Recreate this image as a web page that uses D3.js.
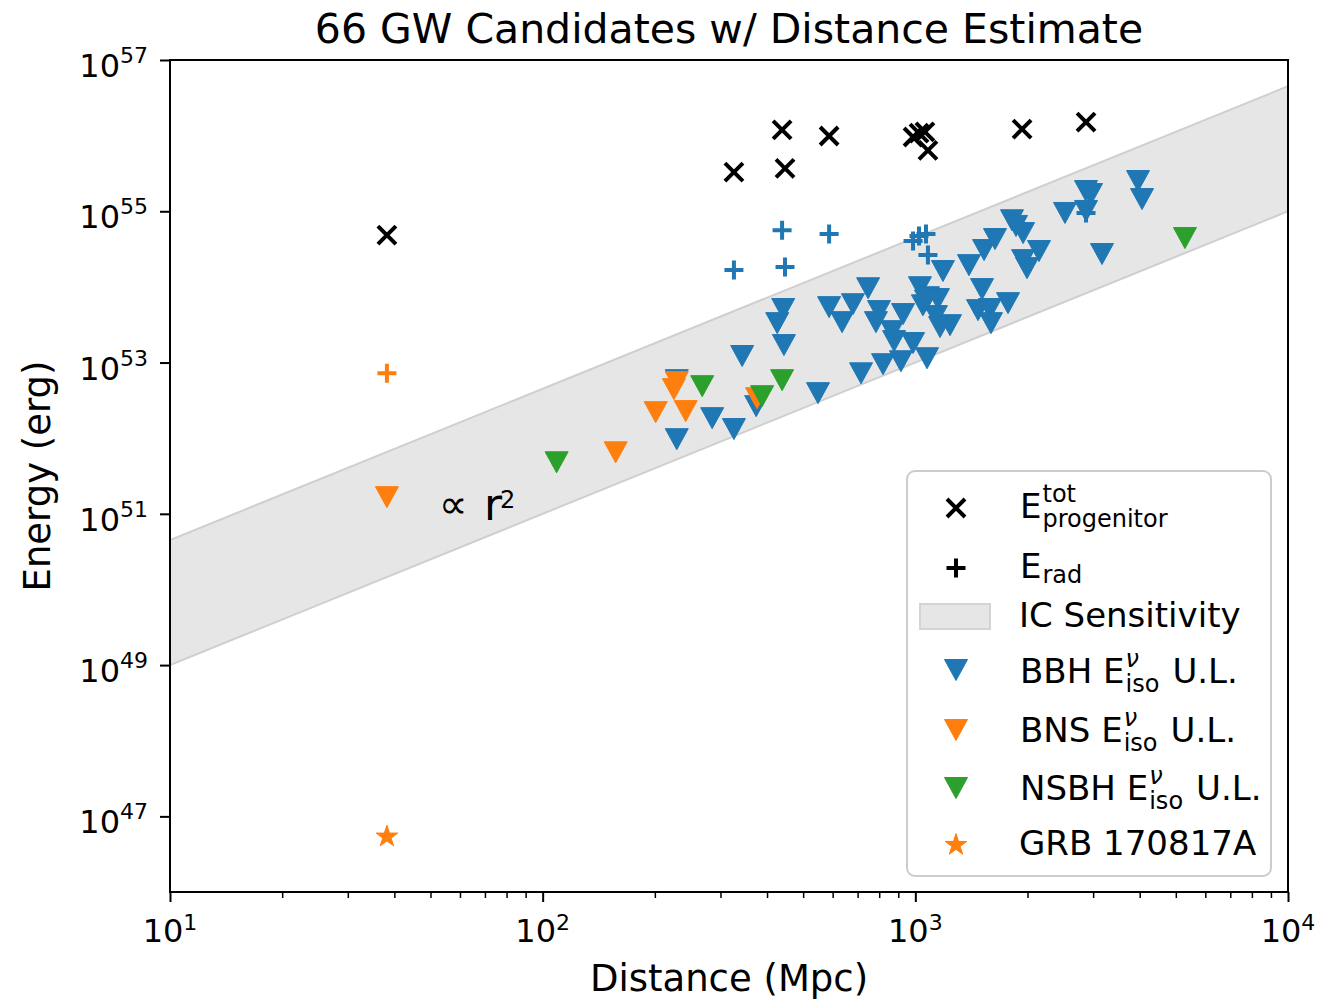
<!DOCTYPE html>
<html>
<head>
<meta charset="utf-8">
<script src="https://cdn.jsdelivr.net/npm/d3@7"></script>
<style>
  body { margin: 0; background: #fff; }
  svg { display: block; }
  text { font-family: "DejaVu Sans", sans-serif; fill: #000; }
</style>
</head>
<body>
<svg id="chart" width="1322" height="1001"></svg>
<script>
// ---- data: distances in Mpc, energies in erg ----
const bbhDist = [229, 229, 285, 326, 343, 374, 426, 442, 444, 548, 587, 636, 680, 715, 747, 799, 784, 819, 866, 877,
                 915, 927, 986, 1029, 1075, 1081, 1150, 1136, 1165, 1239, 1186, 1393, 1510, 1473, 1586, 1596, 1529, 1636, 1773, 1817,
                 1863, 1946, 2147, 1946, 1994, 2521, 2871, 2961, 2871, 3169, 3959, 4058, 1048, 1068];
const bbhEiso = [5.85e52, 9.7e51, 1.84e52, 1.32e52, 1.22e53, 2.65e52, 3.32e53, 5.1e53, 1.70e53, 3.94e52,
                 5.4e53, 3.42e53, 5.9e53, 7.2e52, 9.6e53, 4.79e53, 3.42e53, 9.5e52, 2.60e53, 1.92e53,
                 1.04e53, 4.37e53, 1.81e53, 9.9e53, 1.14e53, 7.3e53, 6.9e53, 4.11e53, 2.94e53, 3.12e53,
                 1.62e54, 1.94e54, 9.35e53, 4.93e53, 5.1e53, 3.32e53, 3.07e54, 4.29e54, 6.1e53, 7.6e54,
                 6.4e54, 5.15e54, 2.98e54, 2.26e54, 1.77e54, 9.5e54, 1.85e55, 1.69e55, 1.01e55, 2.72e54,
                 2.51e55, 1.45e55, 5.7e53, 6.6e53];

const bnsDist = [38.2, 157, 201, 242, 229, 225, 376];
const bnsEiso = [1.66e51, 6.5e51, 2.21e52, 2.28e52, 5.5e52, 4.45e52, 3.38e52];

const nsbhDist = [109, 268, 388, 439, 5290];
const nsbhEiso = [4.8e51, 4.87e52, 3.59e52, 5.85e52, 4.42e54];

const progDist = [38.2, 326, 439, 447, 587, 986, 1023, 1061, 1081, 1934, 2871];
const progEtot = [4.84e54, 3.3e55, 1.19e56, 3.7e55, 9.9e55, 9.6e55, 1.08e56, 1.12e56, 6.4e55, 1.22e56, 1.51e56];

const radDist = [38.2, 326, 439, 447, 587, 986, 1023, 1068, 1081, 1934, 2871];
const radE    = [7.2e52, 1.67e54, 5.6e54, 1.83e54, 5.0e54, 4.04e54, 4.70e54, 5.0e54, 2.64e54, 6.4e54, 9.5e54];
const radType = ["BNS", "BBH", "BBH", "BBH", "BBH", "BBH", "BBH", "BBH", "BBH", "BBH", "BBH"];

const grbDist = [38.2];
const grbE    = [5.4e46];

// IceCube sensitivity band, scaling as r^2
const bandDist = [10, 1e4];
const bandLow  = [1e49, 1e55];
const bandHigh = [4.5e50, 4.5e56];

const xMajor = [1e1, 1e2, 1e3, 1e4];
const yMajor = [1e47, 1e49, 1e51, 1e53, 1e55, 1e57];

// ---- layout ----
const svg = d3.select("#chart");
const L = 170, R = 1288, T = 60, B = 892;
const x = d3.scaleLog().domain([10, 1e4]).range([L, R]);
const y = d3.scaleLog().domain([1e46, 1e57]).range([B, T]);

const colors = { BBH: "#1f77b4", BNS: "#ff7f0e", NSBH: "#2ca02c" };

svg.append("defs").append("clipPath").attr("id", "plotclip")
  .append("rect").attr("x", L).attr("y", T).attr("width", R - L).attr("height", B - T);

const plot = svg.append("g").attr("clip-path", "url(#plotclip)");

// sensitivity band
const bandData = bandDist.map((d, i) => ({ d, lo: bandLow[i], hi: bandHigh[i] }));
plot.append("path").datum(bandData)
  .attr("d", d3.area().x(p => x(p.d)).y0(p => y(p.lo)).y1(p => y(p.hi)))
  .attr("fill", "#e6e6e6");
[p => y(p.lo), p => y(p.hi)].forEach(fy => {
  plot.append("path").datum(bandData)
    .attr("d", d3.line().x(p => x(p.d)).y(fy))
    .attr("fill", "none").attr("stroke", "#cfcfcf").attr("stroke-width", 2);
});

// marker shapes
const triPath = "M-11.5,-10.5L11.5,-10.5L0,10.5Z";
const xPath = "M-9,-9L9,9M-9,9L9,-9";
const plusPath = "M-9.5,0L9.5,0M0,-9.5L0,9.5";
function starPath(Ro) {
  const ri = Ro * 0.382, pts = [];
  for (let i = 0; i < 10; i++) {
    const a = -Math.PI / 2 + i * Math.PI / 5, rr = i % 2 ? ri : Ro;
    pts.push([rr * Math.cos(a), rr * Math.sin(a)]);
  }
  return "M" + pts.map(p => p[0].toFixed(2) + "," + p[1].toFixed(2)).join("L") + "Z";
}

function triangles(dist, energy, color) {
  plot.append("g").selectAll("path").data(dist.map((d, i) => [d, energy[i]])).join("path")
    .attr("transform", p => `translate(${x(p[0])},${y(p[1])})`)
    .attr("d", triPath).attr("fill", color).attr("stroke", color).attr("stroke-width", 1);
}
triangles(bbhDist, bbhEiso, colors.BBH);
triangles(bnsDist, bnsEiso, colors.BNS);
triangles(nsbhDist, nsbhEiso, colors.NSBH);

// total progenitor energy
plot.append("g").selectAll("path").data(progDist.map((d, i) => [d, progEtot[i]])).join("path")
  .attr("transform", p => `translate(${x(p[0])},${y(p[1])})`)
  .attr("d", xPath).attr("fill", "none").attr("stroke", "#000").attr("stroke-width", 4);

// radiated energy
plot.append("g").selectAll("path").data(radDist.map((d, i) => [d, radE[i], radType[i]])).join("path")
  .attr("transform", p => `translate(${x(p[0])},${y(p[1])})`)
  .attr("d", plusPath).attr("fill", "none").attr("stroke", p => colors[p[2]]).attr("stroke-width", 4);

// GRB 170817A
plot.append("g").selectAll("path").data(grbDist.map((d, i) => [d, grbE[i]])).join("path")
  .attr("transform", p => `translate(${x(p[0])},${y(p[1])})`)
  .attr("d", starPath(11.4)).attr("fill", colors.BNS).attr("stroke", colors.BNS).attr("stroke-width", 1);

// r^2 annotation
const ann = svg.append("text").attr("x", 439).attr("y", 518);
ann.append("tspan").attr("font-size", 40).text("∝");
ann.append("tspan").attr("x", 484).attr("y", 520).attr("font-size", 44).text("r");
ann.append("tspan").attr("x", 500).attr("y", 508).attr("font-size", 24).text("2");

// ---- axes ----
const axX = svg.append("g").attr("transform", `translate(0,${B})`);
axX.call(d3.axisBottom(x).tickValues(xMajor).tickSize(10).tickFormat(""));
const xMinor = [];
for (let e = 1; e < 4; e++) for (let m = 2; m < 10; m++) xMinor.push(m * Math.pow(10, e));
const axXm = svg.append("g").attr("transform", `translate(0,${B})`);
axXm.call(d3.axisBottom(x).tickValues(xMinor).tickSize(6).tickFormat(""));
axXm.selectAll("line").attr("stroke-width", 1.5);

const axY = svg.append("g").attr("transform", `translate(${L},0)`);
axY.call(d3.axisLeft(y).tickValues(yMajor).tickSize(10).tickFormat(""));

[axX, axXm, axY].forEach(g => {
  g.select(".domain").remove();
  g.selectAll(".tick line").attr("stroke", "#000");
});
axX.selectAll(".tick line").attr("stroke-width", 2);
axY.selectAll(".tick line").attr("stroke-width", 2);

xMajor.forEach(v => {
  const t = svg.append("text").attr("x", x(v)).attr("y", 942).attr("text-anchor", "middle").attr("font-size", 32);
  t.append("tspan").text("10");
  t.append("tspan").attr("dy", -12).attr("font-size", 22).text(Math.round(Math.log10(v)));
});
yMajor.forEach(v => {
  const t = svg.append("text").attr("x", 148).attr("y", y(v) + 17).attr("text-anchor", "end").attr("font-size", 32);
  t.append("tspan").text("10");
  t.append("tspan").attr("dy", -14).attr("font-size", 22).text(Math.round(Math.log10(v)));
});

// frame
svg.append("rect").attr("x", L).attr("y", T).attr("width", R - L).attr("height", B - T)
  .attr("fill", "none").attr("stroke", "#000").attr("stroke-width", 2);

// titles
svg.append("text").attr("x", (L + R) / 2).attr("y", 43).attr("text-anchor", "middle")
  .attr("font-size", 41).text("66 GW Candidates w/ Distance Estimate");
svg.append("text").attr("x", (L + R) / 2).attr("y", 991).attr("text-anchor", "middle")
  .attr("font-size", 37).text("Distance (Mpc)");
svg.append("text").attr("transform", `translate(50,${(T + B) / 2}) rotate(-90)`).attr("text-anchor", "middle")
  .attr("font-size", 37).text("Energy (erg)");

// ---- legend ----
const lg = svg.append("g");
lg.append("rect").attr("x", 907).attr("y", 471).attr("width", 364).attr("height", 405).attr("rx", 8)
  .attr("fill", "#fff").attr("fill-opacity", 0.8).attr("stroke", "#cccccc").attr("stroke-width", 2);

const mx = 956, tx = 1020;
lg.append("path").attr("transform", `translate(${mx},508)`).attr("d", xPath)
  .attr("fill", "none").attr("stroke", "#000").attr("stroke-width", 4);
lg.append("path").attr("transform", `translate(${mx},568)`).attr("d", plusPath)
  .attr("fill", "none").attr("stroke", "#000").attr("stroke-width", 4);
lg.append("rect").attr("x", 920).attr("y", 604).attr("width", 70).attr("height", 25)
  .attr("fill", "#e6e6e6").attr("stroke", "#d4d4d4").attr("stroke-width", 2);
[["BBH", 670], ["BNS", 730], ["NSBH", 788]].forEach(([k, yy]) => {
  lg.append("path").attr("transform", `translate(${mx},${yy})`).attr("d", triPath)
    .attr("fill", colors[k]).attr("stroke", colors[k]).attr("stroke-width", 1);
});
lg.append("path").attr("transform", `translate(${mx},845)`).attr("d", starPath(11.4))
  .attr("fill", colors.BNS).attr("stroke", colors.BNS).attr("stroke-width", 1);

const FS = 34, SS = 24;
function txt(s, xx, yy, fs) {
  return lg.append("text").attr("x", xx).attr("y", yy).attr("font-size", fs).text(s);
}
function w(node) { return node.node().getComputedTextLength(); }

// E^tot_progenitor
let e1 = txt("E", tx, 518, FS);
let ex = tx + w(e1) + 1;
txt("tot", ex, 502, SS);
txt("progenitor", ex, 527, SS);
// E_rad
let e2 = txt("E", tx, 578, FS);
txt("rad", tx + w(e2) + 1, 583, SS);
// IC Sensitivity
txt("IC Sensitivity", tx - 1, 627, FS);
// E^nu_iso upper limits
[["BBH", 683], ["BNS", 742], ["NSBH", 800]].forEach(([k, yy]) => {
  const a = txt(k + " E", tx, yy, FS);
  const sx = tx + w(a) + 1;
  txt("ν", sx, yy - 16, SS).attr("font-style", "italic");
  const b = txt("iso", sx, yy + 9, SS);
  txt("U.L.", sx + w(b) + 13, yy, FS);
});
txt("GRB 170817A", tx - 1, 855, FS);
</script>
</body>
</html>
